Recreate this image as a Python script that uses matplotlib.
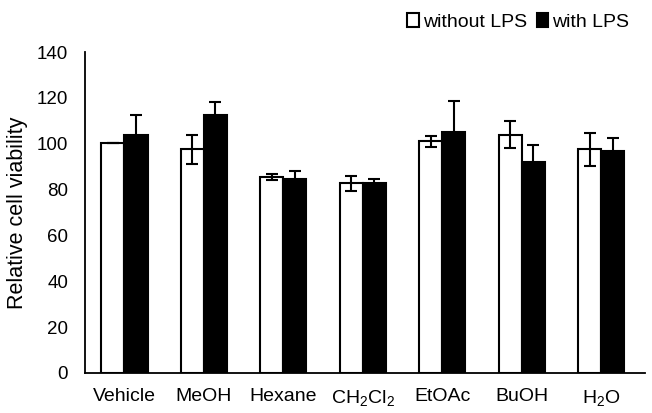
import matplotlib
matplotlib.use("Agg")
import matplotlib.pyplot as plt
from matplotlib.patches import Patch
from matplotlib import rcParams
import numpy as np

rcParams["font.family"] = ["Liberation Sans", "DejaVu Sans"]
rcParams["mathtext.fontset"] = "custom"
rcParams["mathtext.rm"] = "Liberation Sans"

categories = ["Vehicle", "MeOH", "Hexane", r"CH$_2$Cl$_2$", "EtOAc", "BuOH", r"H$_2$O"]
without_lps = [100.5, 97.5, 85.3, 82.8, 101.0, 104.0, 97.5]
without_err = [0.0, 6.5, 1.3, 3.3, 2.5, 6.0, 7.2]
with_lps = [103.8, 112.5, 84.5, 82.8, 105.0, 92.0, 97.0]
with_err = [8.8, 5.5, 3.8, 1.6, 13.8, 7.4, 5.5]
yticks = [0, 20, 40, 60, 80, 100, 120, 140]

fig = plt.figure(figsize=(6.52, 4.13), dpi=100)
ax = fig.add_axes([0.130, 0.097, 0.859, 0.777])

x = np.arange(len(categories))
w = 0.29
ekw = dict(elinewidth=1.5, capthick=1.5, ecolor="black")
ax.bar(x - w/2, without_lps, w, color="white", edgecolor="black", linewidth=1.5,
       yerr=without_err, capsize=4.5, error_kw=ekw, zorder=2)
ax.bar(x + w/2, with_lps, w, color="black", edgecolor="black", linewidth=1.5,
       yerr=with_err, capsize=4.5, error_kw=ekw, zorder=2)

ax.set_xlim(-0.5, 6.55)
ax.set_ylim(0, 140)
ax.set_yticks(yticks)
ax.set_xticks(x)
ax.set_xticklabels(categories, fontsize=14)
ax.tick_params(axis="both", length=0, colors="black")
ax.tick_params(axis="x", pad=11, labelsize=14)
ax.tick_params(axis="y", pad=12, labelsize=13.5)
for s in ["top", "right"]:
    ax.spines[s].set_visible(False)
for s in ["left", "bottom"]:
    ax.spines[s].set_linewidth(1.3)
ax.set_ylabel("Relative cell viability", fontsize=15.5, labelpad=6)

handles = [Patch(facecolor="white", edgecolor="black", linewidth=1.5),
           Patch(facecolor="black", edgecolor="black", linewidth=1.5)]
fig.legend(handles, ["without LPS", "with LPS"], loc="upper right",
           bbox_to_anchor=(0.992, 1.01), ncol=2, frameon=False, fontsize=14,
           handlelength=0.6, handleheight=0.7, handletextpad=0.2, columnspacing=0.5)

fig.savefig("out.png", dpi=100)
